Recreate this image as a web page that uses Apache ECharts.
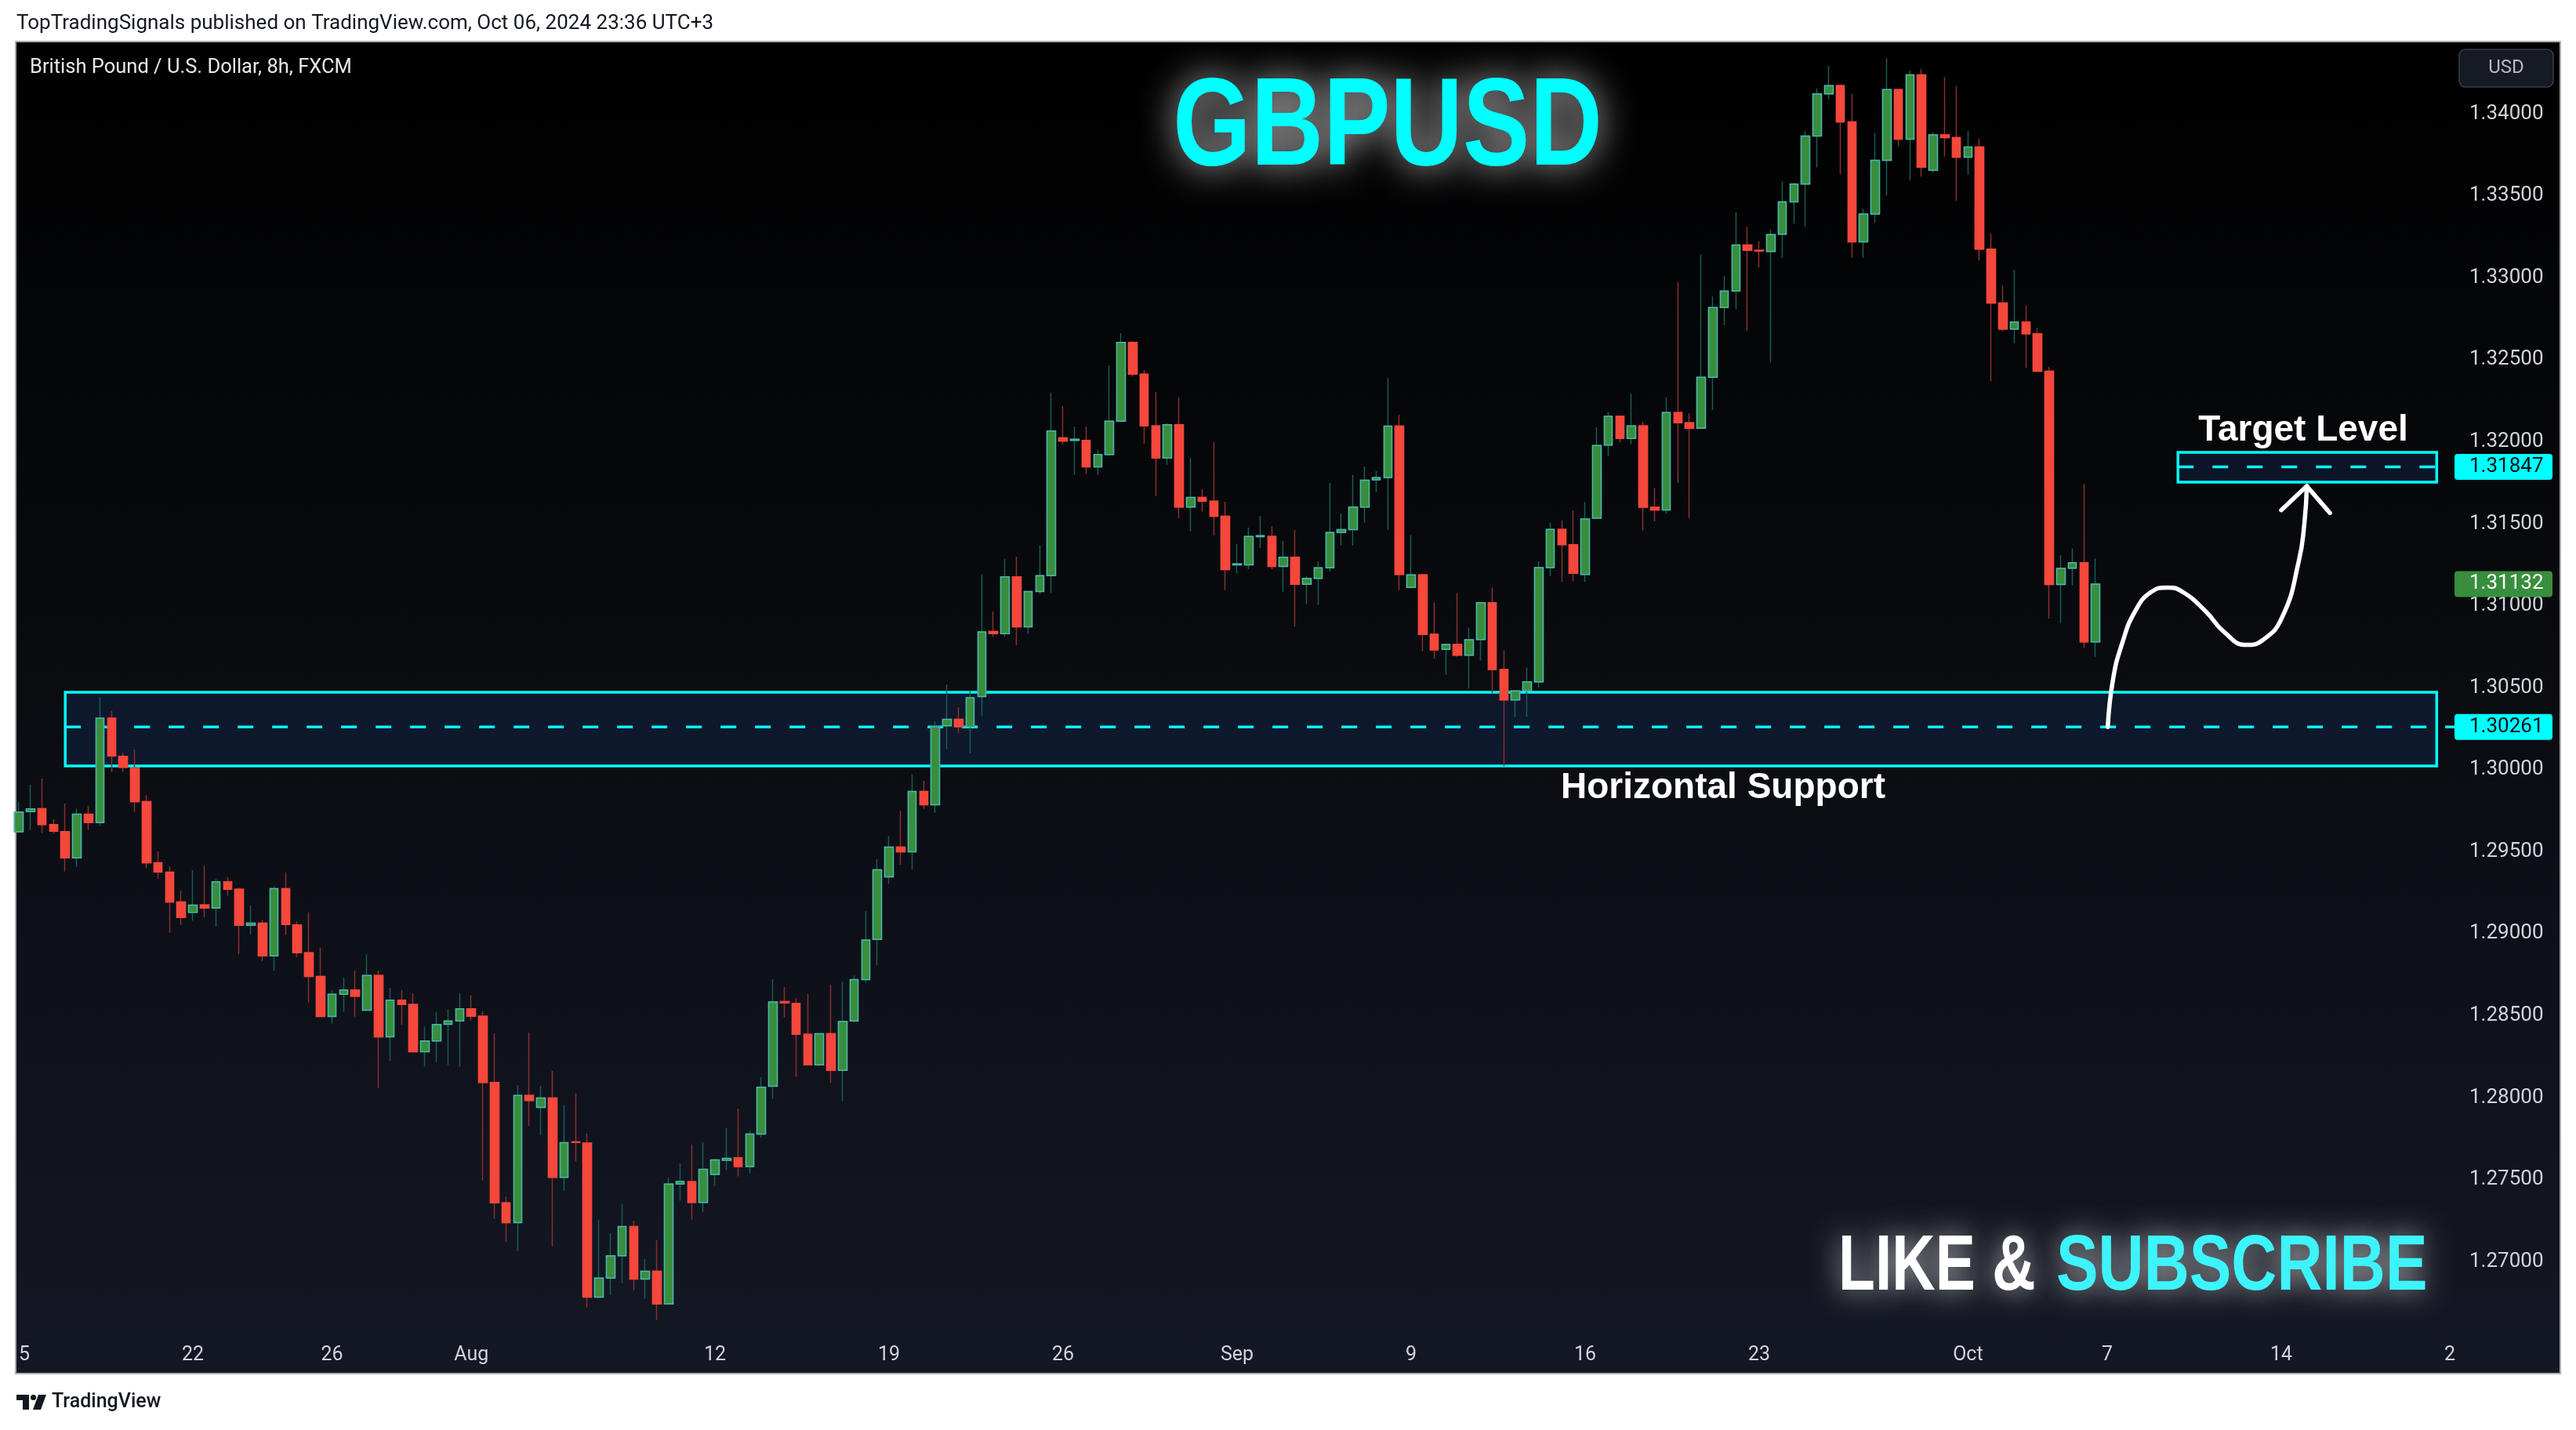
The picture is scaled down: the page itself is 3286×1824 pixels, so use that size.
<!DOCTYPE html>
<html>
<head>
<meta charset="utf-8">
<script src="https://cdn.jsdelivr.net/npm/echarts@6/dist/echarts.min.js"></script>
<style>
html,body{margin:0;padding:0;background:#ffffff;}
#c{width:3286px;height:1824px;}
</style>
</head>
<body>
<div id="c"></div>
<script>
// ---- GBPUSD 8h candles, index 0 = Jul 15 2024 00:00 (UTC+3), 3 candles per trading day ----
const opens = [
1.29621,1.29744,1.29763,1.29666,1.29623,1.29462,1.29729,1.29677,1.30314,1.30082,
1.30010,1.29806,1.29433,1.29375,1.29194,1.29130,1.29176,1.29157,1.29317,1.29271,
1.29051,1.29065,1.28865,1.29275,1.29054,1.28884,1.28740,1.28496,1.28631,1.28657,
1.28534,1.28746,1.28371,1.28595,1.28568,1.28280,1.28346,1.28448,1.28468,1.28542,
1.28497,1.28093,1.27359,1.27239,1.28014,1.27941,1.27999,1.27514,1.27731,1.27724,
1.26784,1.26900,1.27037,1.27215,1.26894,1.26942,1.26742,1.27474,1.27488,1.27362,
1.27532,1.27619,1.27634,1.27580,1.27779,1.28070,1.28587,1.28575,1.28387,1.28200,
1.28390,1.28167,1.28468,1.28720,1.28965,1.29347,1.29528,1.29499,1.29867,1.29786,
1.30268,1.30307,1.30262,1.30446,1.30843,1.30830,1.31176,1.30872,1.31086,1.31183,
1.32023,1.32008,1.32008,1.31846,1.31922,1.32125,1.32606,1.32412,1.32096,1.31900,
1.32104,1.31602,1.31660,1.31637,1.31545,1.31249,1.31249,1.31421,1.31422,1.31239,
1.31296,1.31131,1.31167,1.31231,1.31446,1.31464,1.31602,1.31768,1.31781,1.32095,
1.31112,1.31188,1.30826,1.30734,1.30764,1.30698,1.30794,1.31018,1.30611,1.30426,
1.30481,1.30536,1.31232,1.31465,1.31372,1.31191,1.31534,1.31979,1.32155,1.32020,
1.32096,1.31600,1.31584,1.32178,1.32116,1.32082,1.32393,1.32818,1.32918,1.33199,
1.33167,1.33160,1.33265,1.33462,1.33571,1.33864,1.34121,1.34171,1.33950,1.33219,
1.33388,1.33716,1.34147,1.33845,1.34237,1.33655,1.33871,1.33854,1.33735,1.33797,
1.33174,1.32846,1.32687,1.32730,1.32658,1.32430,1.31129,1.31229,1.31262,1.30780];
const closes = [
1.29742,1.29761,1.29666,1.29625,1.29462,1.29729,1.29677,1.30314,1.30084,1.30014,
1.29806,1.29433,1.29377,1.29194,1.29099,1.29174,1.29157,1.29317,1.29271,1.29051,
1.29065,1.28865,1.29275,1.29056,1.28884,1.28740,1.28496,1.28631,1.28657,1.28619,
1.28745,1.28371,1.28595,1.28568,1.28280,1.28346,1.28447,1.28468,1.28542,1.28497,
1.28093,1.27359,1.27239,1.28014,1.27983,1.27999,1.27514,1.27726,1.27728,1.26784,
1.26900,1.27037,1.27215,1.26894,1.26942,1.26742,1.27474,1.27490,1.27362,1.27564,
1.27621,1.27631,1.27580,1.27779,1.28064,1.28584,1.28578,1.28387,1.28200,1.28390,
1.28167,1.28465,1.28720,1.28962,1.29389,1.29528,1.29499,1.29867,1.29786,1.30262,
1.30307,1.30262,1.30439,1.30840,1.30830,1.31176,1.30872,1.31086,1.31183,1.32065,
1.32004,1.32015,1.31846,1.31922,1.32125,1.32606,1.32412,1.32096,1.31900,1.32104,
1.31602,1.31660,1.31637,1.31545,1.31220,1.31255,1.31422,1.31427,1.31239,1.31296,
1.31131,1.31167,1.31231,1.31446,1.31464,1.31602,1.31765,1.31781,1.32095,1.31191,
1.31188,1.30825,1.30730,1.30764,1.30698,1.30792,1.31018,1.30611,1.30426,1.30481,
1.30536,1.31232,1.31465,1.31372,1.31198,1.31529,1.31977,1.32155,1.32020,1.32096,
1.31600,1.31584,1.32178,1.32116,1.32082,1.32393,1.32818,1.32918,1.33199,1.33167,
1.33163,1.33263,1.33462,1.33571,1.33864,1.34121,1.34171,1.33950,1.33219,1.33388,
1.33716,1.34147,1.33845,1.34237,1.33674,1.33871,1.33854,1.33735,1.33797,1.33174,
1.32846,1.32687,1.32730,1.32658,1.32430,1.31129,1.31227,1.31262,1.30780,1.31132];
const lows = [
1.29618,1.29631,1.29614,1.29609,1.29379,1.29408,1.29633,1.29657,1.29986,1.29986,
1.29742,1.29399,1.29336,1.29007,1.29054,1.29080,1.29099,1.29044,1.29232,1.28874,
1.28996,1.28834,1.28773,1.28993,1.28858,1.28582,1.28491,1.28452,1.28524,1.28494,
1.28534,1.28059,1.28225,1.28445,1.28280,1.28191,1.28216,1.28201,1.28188,1.28471,
1.27496,1.27262,1.27123,1.27065,1.27829,1.27773,1.27094,1.27433,1.27611,1.26721,
1.26777,1.26798,1.26869,1.26826,1.26774,1.26645,1.26742,1.27372,1.27257,1.27304,
1.27461,1.27560,1.27520,1.27540,1.27757,1.27993,1.28490,1.28128,1.28200,1.28193,
1.28090,1.27980,1.28458,1.28701,1.28807,1.29305,1.29421,1.29392,1.29761,1.29738,
1.30126,1.30223,1.30100,1.30326,1.30811,1.30811,1.30759,1.30827,1.31070,1.31079,
1.31984,1.31797,1.31803,1.31797,1.31913,1.32125,1.32399,1.31988,1.31669,1.31860,
1.31535,1.31454,1.31574,1.31430,1.31096,1.31196,1.31223,1.31352,1.31223,1.31085,
1.30874,1.31010,1.31005,1.31209,1.31367,1.31367,1.31507,1.31693,1.31462,1.31096,
1.31105,1.30723,1.30675,1.30579,1.30689,1.30495,1.30666,1.30467,1.30022,1.30323,
1.30323,1.30502,1.31180,1.31146,1.31150,1.31146,1.31529,1.31911,1.31995,1.31984,
1.31459,1.31513,1.31561,1.31749,1.31534,1.32082,1.32192,1.32710,1.32808,1.32676,
1.33062,1.32484,1.33122,1.33331,1.33312,1.33671,1.34085,1.33631,1.33122,1.33122,
1.33336,1.33502,1.33800,1.33593,1.33617,1.33640,1.33740,1.33467,1.33628,1.33105,
1.32368,1.32673,1.32599,1.32451,1.32430,1.30922,1.30894,1.31124,1.30744,1.30689];
const highs = [
1.29806,1.29908,1.29947,1.29698,1.29794,1.29763,1.29780,1.30442,1.30357,1.30103,
1.30123,1.29845,1.29502,1.29411,1.29263,1.29387,1.29416,1.29334,1.29345,1.29282,
1.29172,1.29085,1.29290,1.29374,1.29077,1.29130,1.28915,1.28657,1.28732,1.28776,
1.28875,1.28775,1.28670,1.28655,1.28637,1.28435,1.28523,1.28540,1.28637,1.28623,
1.28527,1.28393,1.27398,1.28077,1.28398,1.28073,1.28164,1.27954,1.28025,1.27781,
1.27256,1.27173,1.27351,1.27251,1.27016,1.27131,1.27513,1.27600,1.27715,1.27728,
1.27627,1.27815,1.27934,1.27800,1.28125,1.28723,1.28675,1.28607,1.28633,1.28393,
1.28688,1.28707,1.28746,1.29137,1.29454,1.29596,1.29751,1.29971,1.29932,1.30294,
1.30520,1.30381,1.30478,1.31192,1.30963,1.31286,1.31299,1.31089,1.31367,1.32298,
1.32217,1.32093,1.32093,1.31950,1.32466,1.32662,1.32614,1.32437,1.32303,1.32112,
1.32270,1.31902,1.31711,1.31997,1.31634,1.31376,1.31476,1.31548,1.31486,1.31395,
1.31462,1.31180,1.31271,1.31749,1.31562,1.31797,1.31849,1.31820,1.32389,1.32165,
1.31429,1.31195,1.31020,1.30769,1.31077,1.30867,1.31020,1.31111,1.30728,1.30483,
1.30623,1.31271,1.31507,1.31520,1.31580,1.31632,1.32089,1.32180,1.32160,1.32294,
1.32121,1.31717,1.32272,1.32973,1.32173,1.33140,1.32886,1.33012,1.33398,1.33311,
1.33222,1.33292,1.33588,1.33579,1.33895,1.34154,1.34292,1.34180,1.34121,1.33419,
1.33883,1.34339,1.34149,1.34263,1.34273,1.33888,1.34223,1.34168,1.33895,1.33847,
1.33269,1.32953,1.33048,1.32830,1.32694,1.32456,1.31308,1.31350,1.31743,1.31289];

// time-axis ticks (candle index) and their labels
const xTickIdx  = [0, 15, 27, 39, 60, 75, 90, 105, 120, 135, 150, 168, 180, 195, 210];
const xTickText = ['5','22','26','Aug','12','19','26','Sep','9','16','23','Oct','7','14','2'];
// price-axis ticks
const yTicks = [1.27,1.275,1.28,1.285,1.29,1.295,1.30,1.305,1.31,1.315,1.32,1.325,1.33,1.335,1.34];

// drawings: [fromIndex, toIndex, topPrice, bottomPrice]
const supportZone = [4.0, 208.4, 1.30472, 1.30023];
const targetZone  = [186.1, 208.4, 1.31935, 1.31753];
// dashed levels: [fromIndex, toIndex, price]
const supportLevel = [4.0, 210, 1.30261];
const targetLevel  = [186.1, 208.4, 1.31847];
// price tags on the right scale
const priceTags = [1.31847, 1.31132, 1.30261];
// projected path (index, price)
const arrowX = [180.05, 180.5, 181.3, 182.4, 183.8, 185.2, 186.5, 188.5, 190.1, 192.0, 193.4, 195.1, 196.5, 197.0, 197.2];
const arrowY = [1.30261, 1.30550, 1.30773, 1.30965, 1.31084, 1.31111, 1.31084, 1.30965, 1.30838, 1.30761, 1.30790, 1.30933, 1.31267, 1.31506, 1.31729];
const headX = [195.0, 197.2, 199.2];
const headY = [1.31583, 1.31729, 1.31565];

// ---------- build ----------
const FONT = 'Roboto, "Liberation Sans", sans-serif';
const candleData = opens.map((o, i) => [i, o, closes[i], lows[i], highs[i]]);
const bodyData = opens.map((o, i) => [i, o, closes[i], Math.min(o, closes[i]), Math.max(o, closes[i])]);
const tagFill = ['#00ffff', '#388e3c', '#00ffff'];
const tagInk = ['#0b0e14', '#ffffff', '#0b0e14'];

const chart = echarts.init(document.getElementById('c'), null, {renderer: 'canvas', width: 3286, height: 1824});

const option = {
  animation: false,
  backgroundColor: '#ffffff',
  grid: {left: 20, right: 154, top: 53, bottom: 124, containLabel: false},
  xAxis: {
    type: 'value', min: -0.27027, max: 210,
    axisLine: {show: false}, axisTick: {show: false}, splitLine: {show: false},
    axisLabel: {
      customValues: xTickIdx,
      formatter: v => { const k = xTickIdx.indexOf(Math.round(v)); return k >= 0 ? xTickText[k] : ''; },
      color: '#d1d4dc', fontSize: 25, fontFamily: FONT, margin: 16,
      showMinLabel: true, showMaxLabel: true,
      alignMinLabel: 'left', alignMaxLabel: 'right'
    }
  },
  yAxis: {
    type: 'value', position: 'right', min: 1.265669, max: 1.344398, scale: true,
    axisLine: {show: false}, axisTick: {show: false}, splitLine: {show: false},
    axisLabel: {
      customValues: yTicks,
      formatter: v => v.toFixed(5),
      color: '#d1d4dc', fontSize: 26, fontFamily: FONT, margin: 18, align: 'left'
    }
  },
  series: [
    { // zones
      type: 'custom', silent: true, clip: false, z: 1,
      data: [supportZone, targetZone],
      encode: {x: [0, 1], y: [2, 3]},
      renderItem: (params, api) => {
        const a = api.coord([api.value(0), api.value(2)]);
        const b = api.coord([api.value(1), api.value(3)]);
        return {type: 'rect', shape: {x: a[0], y: a[1], width: b[0] - a[0], height: b[1] - a[1]},
          style: {fill: 'rgba(30,70,140,0.22)', stroke: '#00ffff', lineWidth: 3.5}};
      }
    },
    { // dashed levels
      type: 'custom', silent: true, clip: false, z: 1,
      data: [supportLevel, targetLevel],
      encode: {x: [0, 1], y: 2},
      renderItem: (params, api) => {
        const a = api.coord([api.value(0), api.value(2)]);
        const b = api.coord([api.value(1), api.value(2)]);
        return {type: 'line', shape: {x1: a[0], y1: a[1], x2: b[0], y2: b[1]},
          style: {stroke: '#00ffff', lineWidth: 3.5, lineDash: [20, 24]}};
      }
    },
    { // wicks
      type: 'candlestick', silent: true, z: 3,
      data: candleData, encode: {x: 0, y: [1, 2, 3, 4]},
      barWidth: 11,
      itemStyle: {color: '#388e3c', color0: '#f5473b', borderColor: '#1a5b54', borderColor0: '#892f2f', borderWidth: 1.5}
    },
    { // bodies
      type: 'candlestick', silent: true, z: 4,
      data: bodyData, encode: {x: 0, y: [1, 2, 3, 4]},
      barWidth: 11,
      itemStyle: {color: '#388e3c', color0: '#f5473b', borderColor: '#4db6ac', borderColor0: '#f5473b', borderWidth: 1.5}
    },
    { // projection curve
      type: 'line', silent: true, z: 10, clip: false, smooth: 0.5,
      symbol: 'none', showSymbol: false,
      data: arrowX.map((x, i) => [x, arrowY[i]]),
      lineStyle: {color: '#ffffff', width: 5.5, cap: 'round'}
    },
    { // arrow head
      type: 'line', silent: true, z: 10, clip: false,
      symbol: 'none', showSymbol: false,
      data: headX.map((x, i) => [x, headY[i]]),
      lineStyle: {color: '#ffffff', width: 5.5, cap: 'round', join: 'round'}
    },
    { // price tags
      type: 'custom', silent: true, clip: false, z: 20,
      data: priceTags.map((p, i) => [210, p, i]),
      encode: {x: 0, y: 1},
      renderItem: (params, api) => {
        const pt = api.coord([api.value(0), api.value(1)]);
        const k = api.value(2);
        return {type: 'group', children: [
          {type: 'rect', shape: {x: pt[0] - 1, y: pt[1] - 16.5, width: 125, height: 33, r: 4},
            style: {fill: tagFill[k]}},
          {type: 'text', x: pt[0] + 18, y: pt[1],
            style: {text: Number(api.value(1)).toFixed(5), fill: tagInk[k], fontSize: 26, fontFamily: FONT,
              textAlign: 'left', textVerticalAlign: 'middle'}}
        ]};
      }
    }
  ],
  graphic: [
    {type: 'rect', z: -10, silent: true,
      shape: {x: 20, y: 53, width: 3246, height: 1699},
      style: {fill: {type: 'linear', x: 0, y: 0, x2: 0, y2: 1,
        colorStops: [{offset: 0, color: '#000000'}, {offset: 0.45, color: '#090b0f'}, {offset: 1, color: '#141824'}]},
        stroke: '#a9acb5', lineWidth: 2}},
    {type: 'text', x: 21, y: 30, z: 50, silent: true,
      style: {text: 'TopTradingSignals published on TradingView.com, Oct 06, 2024 23:36 UTC+3',
        fill: '#131722', fontSize: 26, fontFamily: FONT, textVerticalAlign: 'middle'}},
    {type: 'text', x: 38, y: 87, z: 50, silent: true,
      style: {text: 'British Pound / U.S. Dollar, 8h, FXCM', fill: '#e6e8ee', fontSize: 25.5, fontFamily: FONT, textVerticalAlign: 'middle'}},
    // USD button
    {type: 'rect', z: 50, silent: true, shape: {x: 3137, y: 63, width: 120, height: 48, r: 8},
      style: {fill: '#161a24', stroke: '#3a3e4a', lineWidth: 1.5}},
    {type: 'text', x: 3197, y: 87, z: 51, silent: true,
      style: {text: 'USD', fill: '#b8bbc4', fontSize: 24, fontFamily: FONT, textAlign: 'center', textVerticalAlign: 'middle'}},
    // title
    {type: 'text', x: 1770, y: 166, scaleX: 0.8, z: 60, silent: true,
      style: {text: 'GBPUSD', fill: '#00ffff', fontSize: 160, fontWeight: 'bold', fontFamily: '"Liberation Sans", Arial, sans-serif',
        textAlign: 'center', textVerticalAlign: 'middle', textShadowBlur: 45, textShadowColor: 'rgba(235,235,235,0.85)'}},
    // annotations
    {type: 'text', x: 2938, y: 549, z: 60, silent: true,
      style: {text: 'Target Level', fill: '#ffffff', fontSize: 46, fontWeight: 'bold', fontFamily: '"Liberation Sans", Arial, sans-serif',
        textAlign: 'center', textVerticalAlign: 'middle'}},
    {type: 'text', x: 2198, y: 1005, z: 60, silent: true,
      style: {text: 'Horizontal Support', fill: '#ffffff', fontSize: 46, fontWeight: 'bold', fontFamily: '"Liberation Sans", Arial, sans-serif',
        textAlign: 'center', textVerticalAlign: 'middle'}},
    // LIKE & SUBSCRIBE
    {type: 'text', x: 2345, y: 1617, scaleX: 0.76, z: 60, silent: true,
      style: {text: 'LIKE &', fill: '#ffffff', fontSize: 101, fontWeight: 'bold', fontFamily: '"Liberation Sans", Arial, sans-serif',
        textAlign: 'left', textVerticalAlign: 'middle', textShadowBlur: 35, textShadowColor: 'rgba(230,230,230,0.8)'}},
    {type: 'text', x: 2623, y: 1617, scaleX: 0.796, z: 60, silent: true,
      style: {text: 'SUBSCRIBE', fill: '#3ef4fb', fontSize: 101, fontWeight: 'bold', fontFamily: '"Liberation Sans", Arial, sans-serif',
        textAlign: 'left', textVerticalAlign: 'middle', textShadowBlur: 35, textShadowColor: 'rgba(230,230,230,0.8)'}},
    // TradingView footer logo
    {type: 'polygon', z: 50, silent: true, shape: {points: [[21, 1779], [37, 1779], [37, 1798], [29, 1798], [29, 1786], [21, 1786]]},
      style: {fill: '#131722'}},
    {type: 'circle', z: 50, silent: true, shape: {cx: 42.5, cy: 1782.5, r: 3.6}, style: {fill: '#131722'}},
    {type: 'polygon', z: 50, silent: true, shape: {points: [[49, 1779], [59, 1779], [52, 1798], [42, 1798]]},
      style: {fill: '#131722'}},
    {type: 'text', x: 66, y: 1789, z: 50, silent: true,
      style: {text: 'TradingView', fill: '#131722', fontSize: 25, fontWeight: 500, fontFamily: FONT, textVerticalAlign: 'middle'}}
  ]
};
chart.setOption(option);
</script>
</body>
</html>
